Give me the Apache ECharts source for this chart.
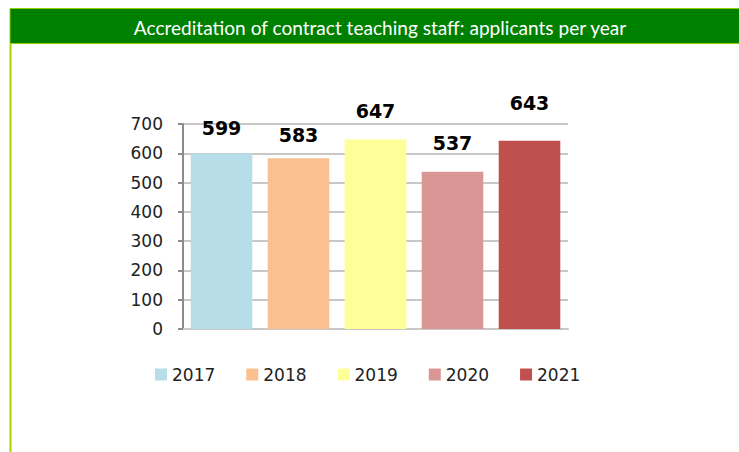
<!DOCTYPE html>
<html>
<head>
<meta charset="utf-8" />
<title>Accreditation of contract teaching staff</title>
<script src="https://cdn.jsdelivr.net/npm/echarts@6/dist/echarts.min.js"></script>
<style>
	html, body { margin: 0; padding: 0; background: #fff; }
	#main { width: 739px; height: 452px; }
</style>
</head>
<body>
<div id="main"></div>
<script>
	// data
	var years = ['2017', '2018', '2019', '2020', '2021'];
	var applicants = [599, 583, 647, 537, 643];
	var yTicks = [0, 100, 200, 300, 400, 500, 600, 700];
	var heading = 'Accreditation of contract teaching staff: applicants per year';

	var colors = ['#b7dde8', '#fac090', '#ffff99', '#d99694', '#c0504d'];
	// value labels were moved by hand in the original
	var labelLift = [16, 14, 19, 19, 28];

	var myChart = echarts.init(document.getElementById('main'), null, { renderer: 'svg' });

	// one series per year so the legend shows each year
	var series = years.map(function (y, i) {
		return {
			name: y,
			type: 'bar',
			stack: 'all',
			barWidth: '80%',
			itemStyle: { color: colors[i] },
			label: {
				show: true,
				position: 'top',
				distance: labelLift[i],
				fontFamily: 'DejaVu Sans',
				fontWeight: 'bold',
				fontSize: 19,
				color: '#000'
			},
			data: years.map(function (c, j) { return j === i ? applicants[i] : '-'; })
		};
	});

	var option = {
		animation: false,
		graphic: [
			{
				type: 'rect',
				shape: { x: 10, y: 8.5, width: 740, height: 35 },
				style: { fill: '#008000', stroke: '#99cc00', lineWidth: 1 },
				z: -1
			},
			{
				type: 'line',
				shape: { x1: 10.5, y1: 44, x2: 10.5, y2: 452 },
				style: { stroke: '#a6d400', lineWidth: 2 }
			},
			{
				// header text, squeezed a little to look like the narrow office font
				type: 'text',
				x: 380,
				y: 27,
				scaleX: 0.954,
				style: {
					text: heading,
					fill: '#fff',
					font: '20px Lato',
					align: 'center',
					verticalAlign: 'middle'
				}
			}
		],
		legend: {
			data: years,
			left: 155,
			top: 366,
			padding: 0,
			itemWidth: 12,
			itemHeight: 12,
			itemGap: 31,
			icon: 'rect',
			textStyle: { fontFamily: 'DejaVu Sans', fontSize: 17, color: '#222' }
		},
		grid: { left: 183, right: 171, top: 124, bottom: 123 },
		xAxis: {
			type: 'category',
			data: years,
			axisLine: { lineStyle: { color: '#c8c8c8', width: 2 } },
			axisTick: { show: false },
			axisLabel: { show: false }
		},
		yAxis: {
			type: 'value',
			min: yTicks[0],
			max: yTicks[yTicks.length - 1],
			interval: 100,
			axisLine: { show: true, lineStyle: { color: '#8c8c8c', width: 2 } },
			axisTick: { show: true, length: 5, lineStyle: { color: '#8c8c8c', width: 2 } },
			axisLabel: { margin: 20, fontFamily: 'DejaVu Sans', fontSize: 17, color: '#222' },
			splitLine: { lineStyle: { color: '#c8c8c8', width: 2 } }
		},
		series: series
	};

	myChart.setOption(option);
</script>
</body>
</html>
